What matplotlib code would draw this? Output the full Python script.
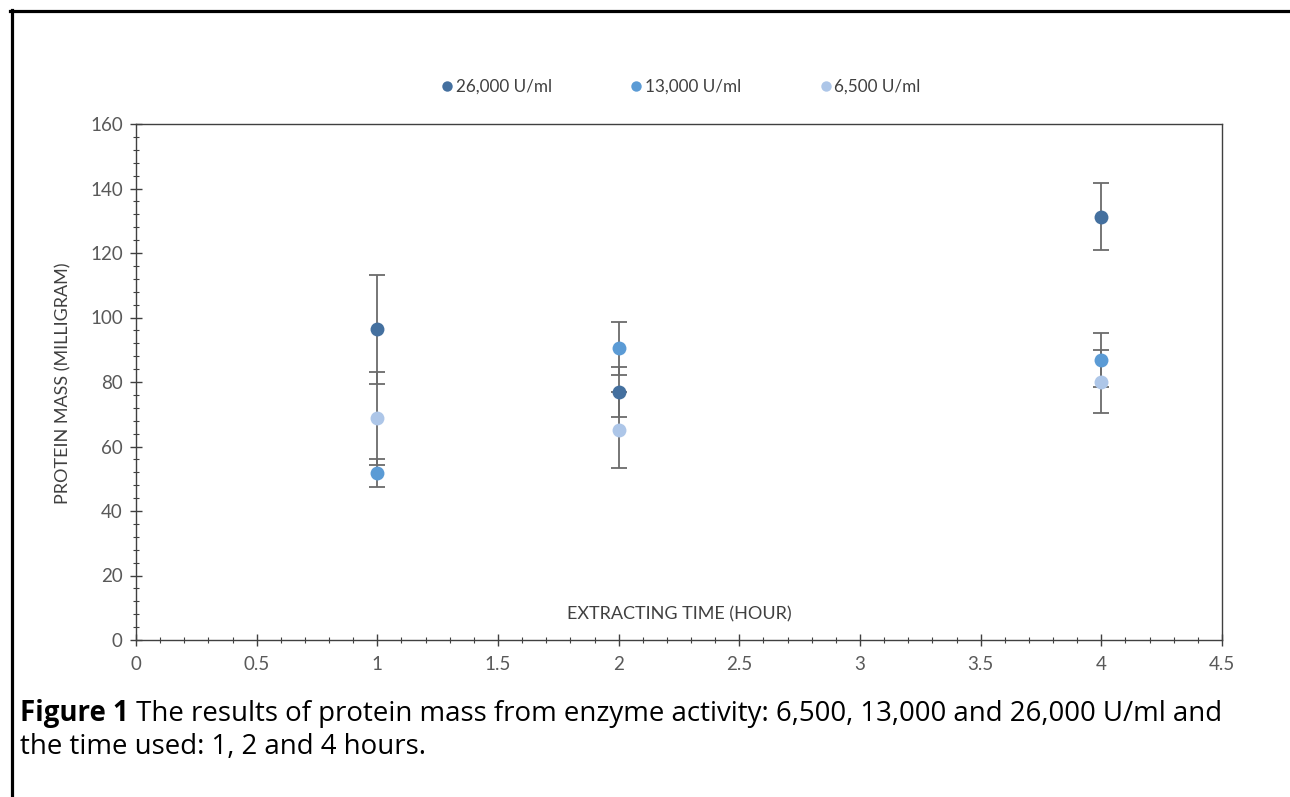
import matplotlib

matplotlib.use("Agg")
import matplotlib.pyplot as plt
from matplotlib.lines import Line2D
from matplotlib.ticker import MultipleLocator

# extracting time (hour)
hours = [1, 2, 4]

# protein mass (milligram) and error per enzyme activity
mass_26000 = [96.3, 76.8, 131.3]
err_26000 = [17.0, 7.7, 10.5]
mass_13000 = [51.8, 90.4, 86.8]
err_13000 = [4.3, 8.1, 8.3]
mass_6500 = [68.8, 65.1, 80.1]
err_6500 = [14.4, 11.7, 9.7]

labels = ["26,000 U/ml", "13,000 U/ml", "6,500 U/ml"]
colors = ["#44709F", "#5B9BD5", "#ADC6E8"]

CHART_FONT = ["Lato", "DejaVu Sans"]
CAPTION_FONT = ["Open Sans", "DejaVu Sans"]
GREY = "#595959"

fig = plt.figure(figsize=(12.9, 7.97), dpi=100)
ax = fig.add_axes([136 / 1290, 1 - 640 / 797, (1222 - 136) / 1290, (640 - 124) / 797])

series = [
    (mass_26000, err_26000),
    (mass_13000, err_13000),
    (mass_6500, err_6500),
]

# error bars first, markers on top
for mass, err in series:
    ax.errorbar(hours, mass, yerr=err, fmt="none", ecolor="#6b6b6b",
                elinewidth=1.3, capsize=6, capthick=1.3, zorder=2)
for (mass, err), lab, col in zip(series, labels, colors):
    ax.plot(hours, mass, "o", color=col, markersize=10, label=lab, zorder=3,
            markeredgewidth=0)

ax.set_xlim(0, 4.5)
ax.set_ylim(0, 160)
ax.xaxis.set_major_locator(MultipleLocator(0.5))
ax.xaxis.set_minor_locator(MultipleLocator(0.1))
ax.yaxis.set_major_locator(MultipleLocator(20))
ax.yaxis.set_minor_locator(MultipleLocator(4))
ax.xaxis.set_major_formatter(lambda v, p: f"{v:g}")

for sp in ax.spines.values():
    sp.set_color("#404040")
    sp.set_linewidth(1.0)

ax.tick_params(which="major", direction="inout", length=9, width=1.0,
               color="#404040", labelcolor=GREY, labelsize=13.5)
ax.tick_params(which="minor", direction="inout", length=5, width=0.8,
               color="#404040")
ax.tick_params(axis="y", which="major", pad=5)
ax.tick_params(axis="x", which="major", pad=7)
for t in ax.get_xticklabels() + ax.get_yticklabels():
    t.set_fontfamily(CHART_FONT)

ax.text(0.5, 0.05, "EXTRACTING TIME (HOUR)", transform=ax.transAxes,
        ha="center", va="center", fontsize=13, color="#404040",
        family=CHART_FONT)
fig.text(63 / 1290, 1 - 383 / 797, "PROTEIN MASS (MILLIGRAM)", rotation=90,
         ha="center", va="center", fontsize=13, color="#404040",
         family=CHART_FONT)

leg = fig.legend(
    handles=[Line2D([], [], marker="o", ls="none", color=c, markersize=7.5,
                    markeredgewidth=0) for c in colors],
    labels=labels, loc="center", bbox_to_anchor=(0.5256, 1 - 87 / 797),
    ncol=3, frameon=False, handletextpad=-0.2, handlelength=1.4,
    columnspacing=4.25, prop={"family": CHART_FONT, "size": 12.3},
)
for t in leg.get_texts():
    t.set_color("#404040")

# outer frame (top and left only)
fig.add_artist(Line2D([10 / 1290, 1], [1 - 10.5 / 797, 1 - 10.5 / 797],
                      transform=fig.transFigure, color="black", lw=2.3))
fig.add_artist(Line2D([11.5 / 1290, 11.5 / 1290], [0, 1 - 9.5 / 797],
                      transform=fig.transFigure, color="black", lw=2.3))

# caption
cap_size = 19.9
x0 = 20 / 1290
y1 = 1 - 721 / 797
y2 = 1 - 754 / 797
bold = fig.text(x0, y1, "Figure 1", fontsize=cap_size, fontweight="bold",
                family=CAPTION_FONT, va="baseline", color="black")
fig.canvas.draw()
bb = bold.get_window_extent(fig.canvas.get_renderer())
fig.text(bb.x1 / fig.bbox.width, y1,
         " The results of protein mass from enzyme activity: 6,500, 13,000 and 26,000 U/ml and",
         fontsize=cap_size, family=CAPTION_FONT, va="baseline", color="black")
fig.text(x0, y2, "the time used: 1, 2 and 4 hours.", fontsize=cap_size,
         family=CAPTION_FONT, va="baseline", color="black")

fig.savefig("out.png", dpi=100, facecolor="white")
